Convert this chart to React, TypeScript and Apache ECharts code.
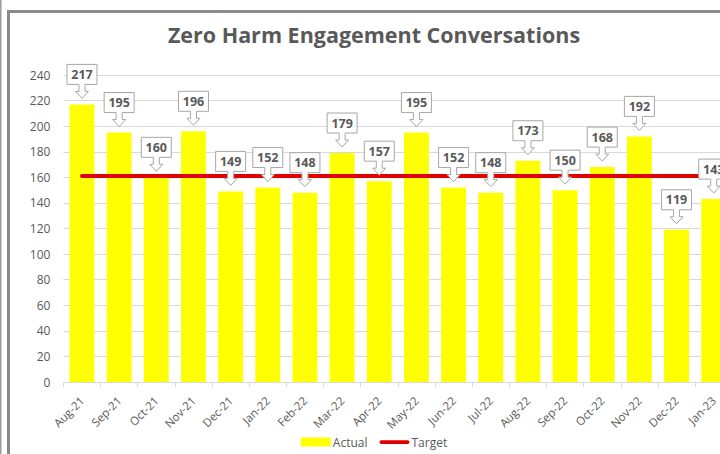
import React, { useEffect, useRef } from "react";
import * as echarts from "echarts";

const categories = [
  "Aug-21", "Sep-21", "Oct-21", "Nov-21", "Dec-21", "Jan-22", "Feb-22", "Mar-22", "Apr-22",
  "May-22", "Jun-22", "Jul-22", "Aug-22", "Sep-22", "Oct-22", "Nov-22", "Dec-22", "Jan-23",
];
const actual = [217, 195, 160, 196, 149, 152, 148, 179, 157, 195, 152, 148, 173, 150, 168, 192, 119, 143];
const target = [161, 161, 161, 161, 161, 161, 161, 161, 161, 161, 161, 161, 161, 161, 161, 161, 161, 161];
const yTicks = { min: 0, max: 240, interval: 20 };

const FONT = "'Open Sans', 'DejaVu Sans', sans-serif";
const TXT = "#595959";

export default function App() {
  const ref = useRef<HTMLDivElement>(null);
  useEffect(() => {
    if (!ref.current) return;
    const chart = echarts.init(ref.current, undefined, { renderer: "svg" });
    const labelData = actual.map((v, i) => [i, v]);
    chart.setOption({
      animation: false,
      backgroundColor: "#ffffff",
      title: {
        text: "Zero Harm Engagement Conversations",
        left: "center",
        top: 18,
        textStyle: { fontFamily: FONT, fontSize: 21.5, fontWeight: "bold", color: TXT },
      },
      legend: {
        data: [
          { name: "Actual", icon: "rect" },
          { name: "Target", icon: "path://M2,0 L30,0 A2,2 0 0 1 30,4 L2,4 A2,2 0 0 1 2,0 Z" },
        ],
        left: "center",
        top: 431,
        itemWidth: 30,
        itemHeight: 9,
        itemGap: 12,
        textStyle: { fontFamily: FONT, fontSize: 12, color: TXT, padding: [0, 0, 0, -3] },
      },
      grid: { left: 63.4, right: 15.7, top: 75, bottom: 98, containLabel: false },
      xAxis: {
        type: "category",
        data: categories,
        axisLine: { lineStyle: { color: "#d9d9d9", width: 1 } },
        axisTick: { show: true, length: 5, lineStyle: { color: "#d9d9d9" } },
        axisLabel: {
          rotate: 45,
          color: TXT,
          fontFamily: FONT,
          fontSize: 11.5,
          margin: 8,
          interval: 0,
          verticalAlign: "top",
          padding: [0, 6, 0, 0],
        },
      },
      yAxis: {
        type: "value",
        min: yTicks.min,
        max: yTicks.max,
        interval: yTicks.interval,
        axisLine: { show: false },
        axisTick: { show: false },
        splitLine: { lineStyle: { color: "#d9d9d9", width: 1 } },
        axisLabel: { color: TXT, fontFamily: FONT, fontSize: 12, margin: 13 },
      },
      series: [
        {
          name: "Actual",
          type: "bar",
          data: actual,
          barCategoryGap: "33%",
          itemStyle: { color: "#ffff00" },
          z: 2,
        },
        {
          name: "Target",
          type: "line",
          data: target,
          symbol: "none",
          lineStyle: { color: "#e00000", width: 4, cap: "round" },
          itemStyle: { color: "#e00000" },
          z: 3,
        },
        {
          name: "labels",
          type: "custom",
          data: labelData,
          encode: { x: 0, y: 1 },
          clip: false,
          z: 10,
          silent: true,
          renderItem: (params: any, api: any) => {
            const idx = api.value(0);
            const val = api.value(1);
            const p = api.coord([idx, val]);
            const cx = p[0];
            const T = p[1];
            const L = cx - 15;
            const R = cx + 15;
            const top = T - 40;
            const bot = T - 20;
            const head = T - 13;
            const tip = T - 6;
            return {
              type: "group",
              children: [
                {
                  type: "polygon",
                  shape: {
                    points: [
                      [L, top], [R, top], [R, bot], [cx + 3, bot], [cx + 3, head], [cx + 6.5, head],
                      [cx, tip], [cx - 6.5, head], [cx - 3, head], [cx - 3, bot], [L, bot],
                    ],
                  },
                  style: { fill: "#ffffff", stroke: "#a6a6a6", lineWidth: 1 },
                },
                {
                  type: "text",
                  style: {
                    text: String(val),
                    x: cx,
                    y: (top + bot) / 2,
                    align: "center",
                    verticalAlign: "middle",
                    fill: TXT,
                    fontFamily: FONT,
                    fontSize: 12.5,
                    fontWeight: "bold",
                  },
                },
              ],
            };
          },
        },
      ],
      graphic: [
        {
          type: "rect",
          shape: { x: 8.5, y: 11.5, width: 900, height: 600 },
          style: { fill: "none", stroke: "#8a8a8a", lineWidth: 3 },
          silent: true,
        },
        {
          type: "line",
          shape: { x1: 0.75, y1: 0, x2: 0.75, y2: 480 },
          style: { stroke: "#9a9a9a", lineWidth: 1.5 },
          silent: true,
        },
      ],
    });
    return () => chart.dispose();
  }, []);
  return (
    <div style={{ position: "fixed", left: 0, top: 0, width: 720, height: 454, overflow: "hidden", background: "#fff" }}>
      <div ref={ref} style={{ width: 748, height: 480 }} />
    </div>
  );
}
